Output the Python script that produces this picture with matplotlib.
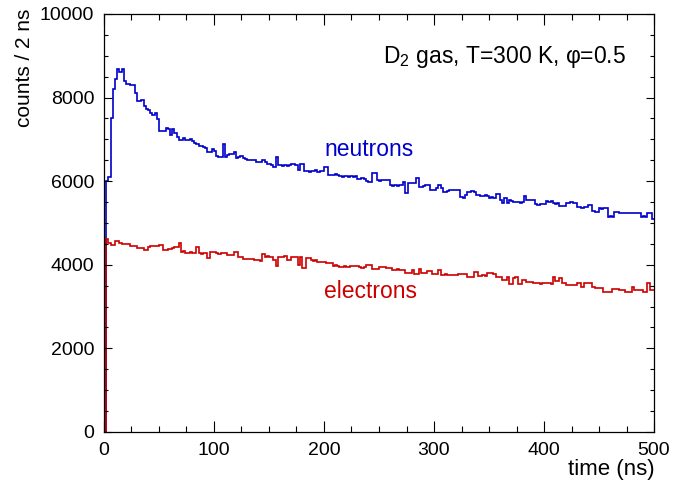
import numpy as np
import matplotlib
matplotlib.use("Agg")
import matplotlib.pyplot as plt
from matplotlib.ticker import MultipleLocator

plt.rcParams['font.family'] = ['Liberation Sans', 'DejaVu Sans']
plt.rcParams['mathtext.fontset'] = 'custom'
plt.rcParams['mathtext.rm'] = 'Liberation Sans'
plt.rcParams['mathtext.it'] = 'Liberation Sans:italic'

# time histogram: 250 bins of 2 ns from 0 to 500 ns
bin_edges = np.arange(0, 502, 2)

neutrons = [
    0, 6000, 6100, 7500, 8200, 8450, 8680, 8610, 8680, 8400,
    8330, 8330, 8300, 8290, 8110, 7920, 7920, 7950, 7800, 7730,
    7700, 7630, 7580, 7640, 7480, 7200, 7200, 7190, 7270, 7250,
    7100, 7260, 7150, 7050, 6990, 6990, 7030, 6980, 6990, 7000,
    6960, 6920, 6900, 6850, 6840, 6820, 6790, 6700, 6700, 6760,
    6720, 6600, 6580, 6580, 6900, 6580, 6620, 6650, 6660, 6700,
    6550, 6580, 6600, 6560, 6520, 6510, 6500, 6510, 6500, 6470,
    6460, 6450, 6510, 6450, 6420, 6400, 6390, 6330, 6580, 6380,
    6380, 6370, 6390, 6370, 6380, 6400, 6410, 6390, 6260, 6400,
    6400, 6240, 6240, 6230, 6250, 6250, 6270, 6230, 6250, 6250,
    6340, 6340, 6160, 6150, 6140, 6170, 6150, 6120, 6110, 6130,
    6120, 6110, 6130, 6100, 6120, 6060, 6060, 6070, 6050, 6000,
    5990, 5980, 6190, 6190, 6020, 6010, 6030, 6020, 6040, 6030,
    5910, 5890, 5920, 5880, 5900, 5900, 5980, 5720, 5960, 5960,
    5950, 5960, 6070, 5870, 5860, 5880, 5910, 5900, 5790, 5790,
    5790, 5830, 5900, 5830, 5750, 5750, 5760, 5790, 5790, 5800,
    5790, 5780, 5620, 5600, 5660, 5750, 5740, 5760, 5750, 5660,
    5660, 5640, 5650, 5660, 5640, 5600, 5610, 5600, 5700, 5690,
    5560, 5480, 5600, 5470, 5540, 5520, 5500, 5500, 5510, 5490,
    5500, 5650, 5560, 5550, 5540, 5550, 5450, 5440, 5460, 5450,
    5450, 5520, 5510, 5530, 5470, 5460, 5470, 5400, 5400, 5410,
    5480, 5470, 5500, 5480, 5490, 5390, 5380, 5370, 5390, 5380,
    5430, 5430, 5280, 5270, 5260, 5350, 5340, 5360, 5350, 5150,
    5160, 5150, 5260, 5270, 5250, 5240, 5230, 5250, 5240, 5240,
    5230, 5250, 5240, 5240, 5150, 5160, 5150, 5240, 5230, 5100,
]

electrons = [
    0, 4620, 4520, 4470, 4470, 4570, 4560, 4520, 4500, 4500,
    4500, 4490, 4450, 4440, 4450, 4400, 4410, 4390, 4350, 4350,
    4420, 4450, 4440, 4460, 4450, 4470, 4470, 4350, 4360, 4380,
    4380, 4390, 4420, 4420, 4530, 4310, 4320, 4290, 4290, 4300,
    4290, 4280, 4420, 4280, 4270, 4290, 4280, 4160, 4310, 4300,
    4310, 4280, 4270, 4290, 4280, 4280, 4230, 4240, 4230, 4300,
    4300, 4190, 4190, 4130, 4140, 4150, 4140, 4130, 4110, 4110,
    4110, 4100, 4270, 4190, 4200, 4180, 4190, 4110, 3970, 4190,
    4190, 4180, 4200, 4110, 4110, 4190, 4190, 4180, 4000, 4180,
    3920, 3920, 4170, 4160, 4110, 4100, 4120, 4070, 4060, 4070,
    4070, 4040, 4040, 4050, 3980, 3990, 3970, 3950, 3950, 3960,
    3950, 3950, 3970, 3960, 3980, 3970, 3940, 3930, 3940, 3990,
    3990, 3990, 3900, 3910, 3890, 3950, 3950, 3940, 3920, 3920,
    3920, 3880, 3870, 3890, 3880, 3880, 3880, 3800, 3800, 3810,
    3880, 3780, 3780, 3900, 3800, 3800, 3810, 3860, 3860, 3780,
    3780, 3780, 3880, 3760, 3760, 3770, 3750, 3760, 3760, 3760,
    3760, 3780, 3790, 3780, 3780, 3710, 3710, 3700, 3830, 3830,
    3740, 3740, 3750, 3730, 3800, 3800, 3810, 3790, 3700, 3700,
    3700, 3640, 3640, 3710, 3540, 3540, 3680, 3700, 3540, 3550,
    3640, 3640, 3590, 3590, 3600, 3560, 3570, 3560, 3550, 3560,
    3560, 3570, 3560, 3540, 3710, 3620, 3620, 3680, 3560, 3560,
    3520, 3520, 3510, 3520, 3520, 3560, 3560, 3470, 3560, 3560,
    3560, 3560, 3460, 3450, 3450, 3440, 3450, 3350, 3350, 3350,
    3350, 3420, 3420, 3410, 3390, 3390, 3390, 3350, 3350, 3350,
    3470, 3390, 3390, 3400, 3390, 3350, 3350, 3560, 3400, 3400,
]

blue = '#0000cc'
red = '#cc0000'

fig = plt.figure(figsize=(6.73, 4.91), dpi=100)
ax = fig.add_axes([0.1545, 0.1202, 0.8173, 0.8513])

ax.stairs(neutrons, bin_edges, baseline=None, color=blue, lw=1.2)
ax.stairs(electrons, bin_edges, baseline=None, color=red, lw=1.2)

ax.set_xlim(0, 500)
ax.set_ylim(0, 10000)
ax.xaxis.set_major_locator(MultipleLocator(100))
ax.xaxis.set_minor_locator(MultipleLocator(25))
ax.yaxis.set_major_locator(MultipleLocator(2000))
ax.yaxis.set_minor_locator(MultipleLocator(500))
ax.tick_params(which='both', direction='in', top=True, right=True,
               labelsize=14, width=0.8)
ax.tick_params(axis='x', which='major', length=8, pad=7)
ax.tick_params(axis='x', which='minor', length=4)
ax.tick_params(axis='y', which='major', length=6, pad=7)
ax.tick_params(axis='y', which='minor', length=3)
for s in ax.spines.values():
    s.set_linewidth(0.9)

ax.text(475, 8970, r'$\mathrm{D}_2$ gas, T=300 K, φ=0.5',
        ha='right', va='center', fontsize=16.5)
ax.text(200, 6600, 'neutrons', color=blue, ha='left', va='baseline',
        fontsize=16.5)
ax.text(200, 3205, 'electrons', color=red, ha='left', va='baseline',
        fontsize=16.5)

fig.text(25 / 673, 1 - 9 / 491, 'counts / 2 ns', rotation=90,
         ha='center', va='top', fontsize=15)
fig.text(655 / 673, 22 / 491, 'time (ns)', ha='right', va='center',
         fontsize=16)

fig.savefig('out.png', dpi=100)
